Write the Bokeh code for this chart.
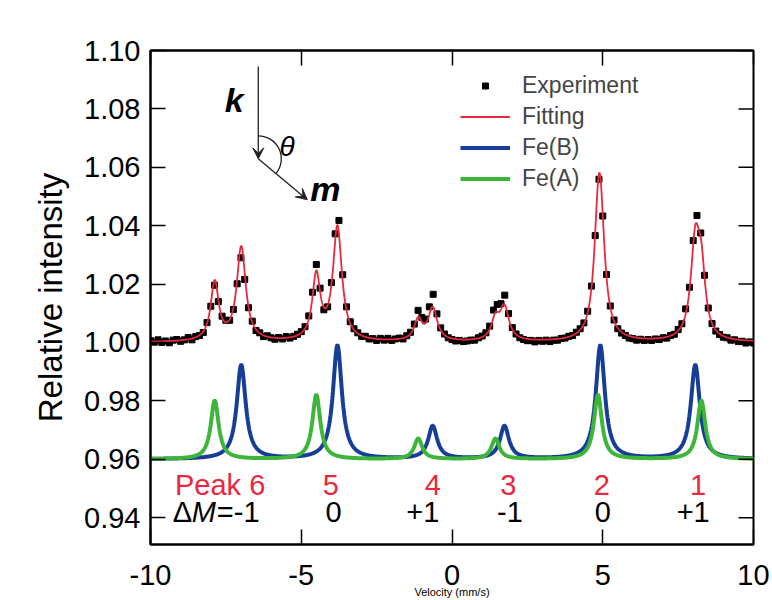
import numpy as np
from bokeh.plotting import figure
from bokeh.models import (Range1d, LinearAxis, FixedTicker, PrintfTickFormatter,
                          CustomJSTickFormatter, Arrow, VeeHead, Legend, LegendItem, Label)
from bokeh.embed import file_html
from bokeh.resources import INLINE

FONT = "Liberation Sans"

# ---- measured spectrum (relative intensity per velocity channel, mm/s) ----
velocity = [
    -10.0, -9.875, -9.75, -9.625, -9.5, -9.375, -9.25, -9.125,
    -9.0, -8.875, -8.75, -8.625, -8.5, -8.375, -8.25, -8.125,
    -8.0, -7.875, -7.75, -7.625, -7.5, -7.375, -7.25, -7.125,
    -7.0, -6.875, -6.75, -6.625, -6.5, -6.375, -6.25, -6.125,
    -6.0, -5.875, -5.75, -5.625, -5.5, -5.375, -5.25, -5.125,
    -5.0, -4.875, -4.75, -4.625, -4.5, -4.375, -4.25, -4.125,
    -4.0, -3.875, -3.75, -3.625, -3.5, -3.375, -3.25, -3.125,
    -3.0, -2.875, -2.75, -2.625, -2.5, -2.375, -2.25, -2.125,
    -2.0, -1.875, -1.75, -1.625, -1.5, -1.375, -1.25, -1.125,
    -1.0, -0.875, -0.75, -0.625, -0.5, -0.375, -0.25, -0.125,
    0.0, 0.125, 0.25, 0.375, 0.5, 0.625, 0.75, 0.875,
    1.0, 1.125, 1.25, 1.375, 1.5, 1.625, 1.75, 1.875,
    2.0, 2.125, 2.25, 2.375, 2.5, 2.625, 2.75, 2.875,
    3.0, 3.125, 3.25, 3.375, 3.5, 3.625, 3.75, 3.875,
    4.0, 4.125, 4.25, 4.375, 4.5, 4.625, 4.75, 4.875,
    5.0, 5.125, 5.25, 5.375, 5.5, 5.625, 5.75, 5.875,
    6.0, 6.125, 6.25, 6.375, 6.5, 6.625, 6.75, 6.875,
    7.0, 7.125, 7.25, 7.375, 7.5, 7.625, 7.75, 7.875,
    8.0, 8.125, 8.25, 8.375, 8.5, 8.625, 8.75, 8.875,
    9.0, 9.125, 9.25, 9.375, 9.5, 9.625, 9.75, 9.875,
    10.0,
]
experiment = [
    1.0006, 1.0001, 1.0009, 1.0000, 1.0005, 0.9999, 1.0008, 1.0010,
    1.0004, 1.0009, 1.0017, 1.0009, 1.0020, 1.0024, 1.0034, 1.0068,
    1.0124, 1.0196, 1.0140, 1.0090, 1.0076, 1.0076, 1.0113, 1.0201,
    1.0290, 1.0216, 1.0119, 1.0073, 1.0041, 1.0033, 1.0020, 1.0023,
    1.0016, 1.0011, 1.0017, 1.0012, 1.0020, 1.0015, 1.0021, 1.0028,
    1.0037, 1.0054, 1.0091, 1.0172, 1.0267, 1.0186, 1.0112, 1.0122,
    1.0205, 1.0372, 1.0418, 1.0232, 1.0122, 1.0071, 1.0047, 1.0033,
    1.0021, 1.0021, 1.0012, 1.0013, 1.0007, 1.0014, 1.0008, 1.0014,
    1.0007, 1.0012, 1.0015, 1.0012, 1.0023, 1.0035, 1.0063, 1.0110,
    1.0086, 1.0080, 1.0122, 1.0165, 1.0098, 1.0050, 1.0029, 1.0016,
    1.0010, 1.0005, 1.0007, 1.0003, 1.0005, 1.0008, 1.0008, 1.0016,
    1.0022, 1.0033, 1.0056, 1.0111, 1.0130, 1.0133, 1.0162, 1.0099,
    1.0051, 1.0029, 1.0016, 1.0010, 1.0006, 1.0007, 1.0002, 1.0007,
    1.0004, 1.0008, 1.0003, 1.0008, 1.0008, 1.0014, 1.0015, 1.0021,
    1.0024, 1.0035, 1.0047, 1.0067, 1.0107, 1.0193, 1.0366, 1.0559,
    1.0433, 1.0233, 1.0125, 1.0077, 1.0047, 1.0032, 1.0024, 1.0015,
    1.0013, 1.0008, 1.0011, 1.0007, 1.0010, 1.0007, 1.0012, 1.0010,
    1.0016, 1.0015, 1.0024, 1.0028, 1.0044, 1.0064, 1.0115, 1.0189,
    1.0349, 1.0435, 1.0375, 1.0230, 1.0118, 1.0065, 1.0039, 1.0027,
    1.0018, 1.0016, 1.0008, 1.0009, 1.0003, 1.0004, 0.9998, 1.0002,
    0.9998,
]

# ---- fitted Lorentzian sextets (line positions, intensities, half widths) ----
feB_position = [-6.99, -3.80, -0.64, 1.74, 4.92, 8.07]
feB_intensity = [0.0322, 0.0389, 0.0112, 0.0112, 0.0389, 0.0322]
feB_halfwidth = 0.18
feA_position = [-7.87, -4.50, -1.12, 1.44, 4.84, 8.27]
feA_intensity = [0.0200, 0.0220, 0.0070, 0.0070, 0.0220, 0.0200]
feA_halfwidth = 0.16
component_baseline = 0.96
fit_baseline = 1.00

# ---- peak annotations ----
peak_text = ["Peak 6", "5", "4", "3", "2", "1"]
peak_x = [-7.69, -4.02, -0.64, 1.87, 4.97, 8.16]
dm_text = ["0", "+1", "-1", "0", "+1"]
dm_x = [-3.93, -0.97, 1.92, 5.00, 8.00]

y_ticks = [0.94, 0.96, 0.98, 1.00, 1.02, 1.04, 1.06, 1.08, 1.10]
x_ticks = [-10, -5, 0, 5, 10]

RED = "#e8283c"
BLUE = "#163e96"
GREEN = "#3db43a"


def sextet(v, pos, inten, hw):
    out = np.zeros_like(v)
    for c, h in zip(pos, inten):
        out += h / (1.0 + ((v - c) / hw) ** 2)
    return out


v_line = np.linspace(-10, 10, 2001)
feB_line = sextet(v_line, feB_position, feB_intensity, feB_halfwidth)
feA_line = sextet(v_line, feA_position, feA_intensity, feA_halfwidth)

p = figure(width=772, height=600, output_backend="svg", toolbar_location=None,
           x_range=Range1d(-10, 10), y_range=Range1d(0.9308, 1.10),
           min_border_left=150, min_border_right=19, min_border_top=50,
           min_border_bottom=56)
p.grid.visible = False
p.outline_line_color = "black"
p.outline_line_width = 2
p.background_fill_color = "white"
p.border_fill_color = "white"

bottom = p.below[0]
left = p.left[0]

r_exp = p.scatter(velocity, experiment, marker="square", size=6,
                  fill_color="black", line_color="black")
r_fit = p.line(v_line, fit_baseline + feB_line + feA_line, line_color=RED, line_width=1.8)
r_b = p.line(v_line, component_baseline + feB_line, line_color=BLUE, line_width=4)
r_a = p.line(v_line, component_baseline + feA_line, line_color=GREEN, line_width=4)

# axes
bottom.ticker = FixedTicker(ticks=x_ticks)
bottom.formatter = CustomJSTickFormatter(code="return String(tick)")
left.ticker = FixedTicker(ticks=y_ticks)
left.formatter = PrintfTickFormatter(format="%.2f")
top = LinearAxis(ticker=FixedTicker(ticks=x_ticks), major_label_text_font_size="1px",
                 major_label_text_color=None, major_label_standoff=0)
p.add_layout(top, "above")
for ax in [bottom, left, top]:
    ax.major_tick_in = 15
    ax.major_tick_out = 0
    ax.minor_tick_in = 0
    ax.minor_tick_out = 0
    ax.major_tick_line_width = 1.5
    ax.major_tick_line_color = "black"
    ax.axis_line_color = "black"
    ax.axis_line_width = 2
    ax.major_label_text_font = FONT
    ax.axis_label_text_font = FONT
    ax.axis_label_text_font_style = "normal"
    ax.axis_label_text_color = "black"
bottom.major_label_text_color = "black"
bottom.major_label_text_font_size = "29px"
bottom.major_label_standoff = 20
bottom.axis_label = "Velocity (mm/s)"
bottom.axis_label_text_font_size = "11px"
bottom.axis_label_standoff = -2
left.major_label_text_color = "black"
left.major_label_text_font_size = "29px"
left.major_label_standoff = 10
left.axis_label = "Relative intensity"
left.axis_label_text_font_size = "33px"
left.axis_label_standoff = 12

# right-hand inward ticks (mirror of the left axis)
p.ray(x=[10] * len(y_ticks), y=y_ticks, length=15, length_units="screen",
      angle=np.pi, line_color="black", line_width=1.5)

# legend
legend = Legend(items=[LegendItem(label="Experiment", renderers=[r_exp]),
                       LegendItem(label="Fitting", renderers=[r_fit]),
                       LegendItem(label="Fe(B)", renderers=[r_b]),
                       LegendItem(label="Fe(A)", renderers=[r_a])],
                location=(310, 350), background_fill_alpha=0, border_line_color=None,
                padding=0, spacing=0, margin=0, glyph_width=50, glyph_height=15,
                label_height=31, label_standoff=12, label_text_font=FONT,
                label_text_font_size="23px", label_text_baseline="middle")
p.add_layout(legend)

# k / m geometry sketch
vx, vy = -6.425, 1.0629
p.add_layout(Arrow(end=VeeHead(size=11, fill_color="#222222", line_color="#222222"),
                   x_start=vx, y_start=1.0945, x_end=vx, y_end=vy,
                   line_color="#222222", line_width=1.3))
p.add_layout(Arrow(end=VeeHead(size=11, fill_color="#222222", line_color="#222222"),
                   x_start=vx, y_start=vy, x_end=-4.80, y_end=1.0489,
                   line_color="#222222", line_width=1.3))
p.arc(x=[vx], y=[vy], radius=23, radius_units="screen",
      start_angle=-40 * np.pi / 180, end_angle=np.pi / 2, direction="anticlock",
      line_color="#222222", line_width=1.3)
p.add_layout(Label(x=-7.22, y=1.0831, text="k", text_align="center",
                   text_baseline="alphabetic", text_font=FONT, text_font_size="34px",
                   text_font_style="bold italic", text_color="black"))
p.add_layout(Label(x=-5.47, y=1.0672, text="θ", text_align="center",
                   text_baseline="alphabetic", text_font=FONT, text_font_size="28px",
                   text_font_style="italic", text_color="black"))
p.add_layout(Label(x=-4.20, y=1.0524, text="m", text_align="center",
                   text_baseline="alphabetic", text_font=FONT, text_font_size="34px",
                   text_font_style="bold italic", text_color="black"))

# peak numbers and ΔM labels
for t, x in zip(peak_text, peak_x):
    p.add_layout(Label(x=x, y=0.9512, text=t, text_align="center",
                       text_baseline="alphabetic", text_font=FONT,
                       text_font_size="29px", text_color=RED))
for t, x in zip(dm_text, dm_x):
    p.add_layout(Label(x=x, y=0.9418, text=t, text_align="center",
                       text_baseline="alphabetic", text_font=FONT,
                       text_font_size="29px", text_color="black"))
dm_left = -9.26
p.add_layout(Label(x=dm_left, y=0.9418, text="Δ", text_align="left",
                   text_baseline="alphabetic", text_font=FONT,
                   text_font_size="29px", text_color="black"))
p.add_layout(Label(x=dm_left, y=0.9418, x_offset=19, text="M", text_align="left",
                   text_baseline="alphabetic", text_font=FONT,
                   text_font_size="29px", text_font_style="italic", text_color="black"))
p.add_layout(Label(x=dm_left, y=0.9418, x_offset=44, text="=-1", text_align="left",
                   text_baseline="alphabetic", text_font=FONT,
                   text_font_size="29px", text_color="black"))

open("out.html", "w").write(file_html(p, INLINE))
